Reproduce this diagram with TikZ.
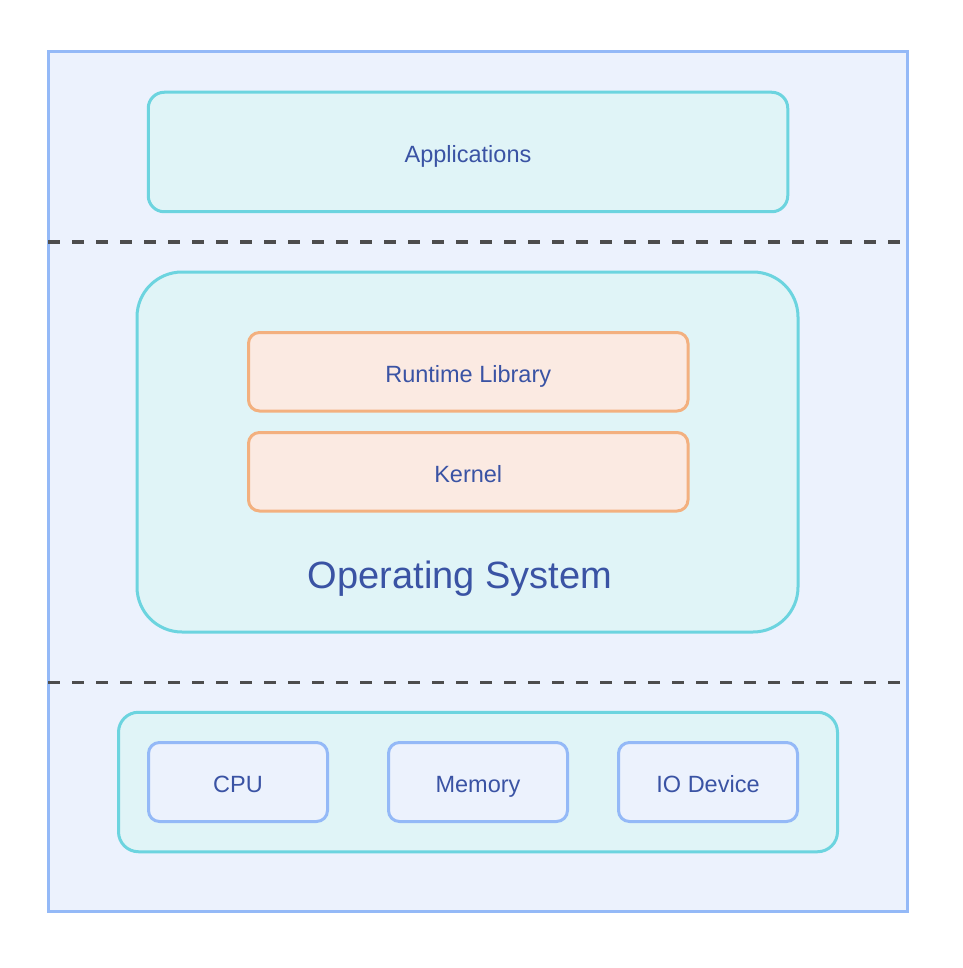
\documentclass[tikz,border=0pt]{standalone}
\usepackage{fontspec}
\setmainfont{Liberation Sans}
\usetikzlibrary{calc}

\definecolor{frameline}{HTML}{94B9F7}
\definecolor{framefill}{HTML}{ECF2FD}
\definecolor{cyanline}{HTML}{6CD4DF}
\definecolor{cyanfill}{HTML}{E0F4F7}
\definecolor{orangeline}{HTML}{F3B07F}
\definecolor{orangefill}{HTML}{FBEAE2}
\definecolor{labeltext}{HTML}{3A53A4}
\definecolor{sepline}{HTML}{4D4D4D}

\begin{document}
\begin{tikzpicture}[x=1pt, y=-1pt,
    box/.style={draw, line width=3pt, rounded corners=#1, inner sep=0pt,
                text=labeltext, font=\fontsize{23.5}{27}\selectfont,
                text height=21pt, text depth=0.4pt},
    layer/.style={box=16pt, draw=cyanline, fill=cyanfill},
    oslayer/.style={box=11pt, draw=orangeline, fill=orangefill},
    unit/.style={box=11pt, draw=frameline, fill=framefill,
                 minimum width=179pt, minimum height=79pt},
    sep/.style={draw=sepline, line width=3pt, dash pattern=on 12pt off 12pt}]
            \useasboundingbox (0,0) rectangle (962,968);

            % Frame
            \draw[frameline, fill=framefill, line width=3pt] (48,52) rectangle (907.5,911.5);

            % Applications
            \node[layer, minimum width=639.5pt, minimum height=119.5pt] (apps) at (468,152) {Applications};
            \draw[sep] (48,242) -- (906,242);

            % Operating system
            \node[layer, box=45pt, draw=cyanline, minimum width=661pt, minimum height=360pt] (os) at (467.5,452) {};
            \node[oslayer, minimum width=439.5pt, minimum height=78.5pt] (runtime) at (468.25,371.75) {Runtime Library};
            \node[oslayer, minimum width=439.5pt, minimum height=78.5pt] (kernel) at (468.25,471.75) {Kernel};
            \node[text=labeltext, font=\fontsize{38}{42}\selectfont] (oslabel) at (460,578.5) {Operating System};
            \draw[sep] (48,682) -- (906,682);

            % Hardware
            \node[layer, box=20pt, draw=cyanline, minimum width=719pt, minimum height=139.5pt] (hw) at (478,782) {};
            \foreach \x/\name/\txt in {238/cpu/CPU, 478/memory/Memory, 708/io/IO Device}
                \node[unit] (\name) at (\x,782) {\txt};
\end{tikzpicture}
\end{document}
